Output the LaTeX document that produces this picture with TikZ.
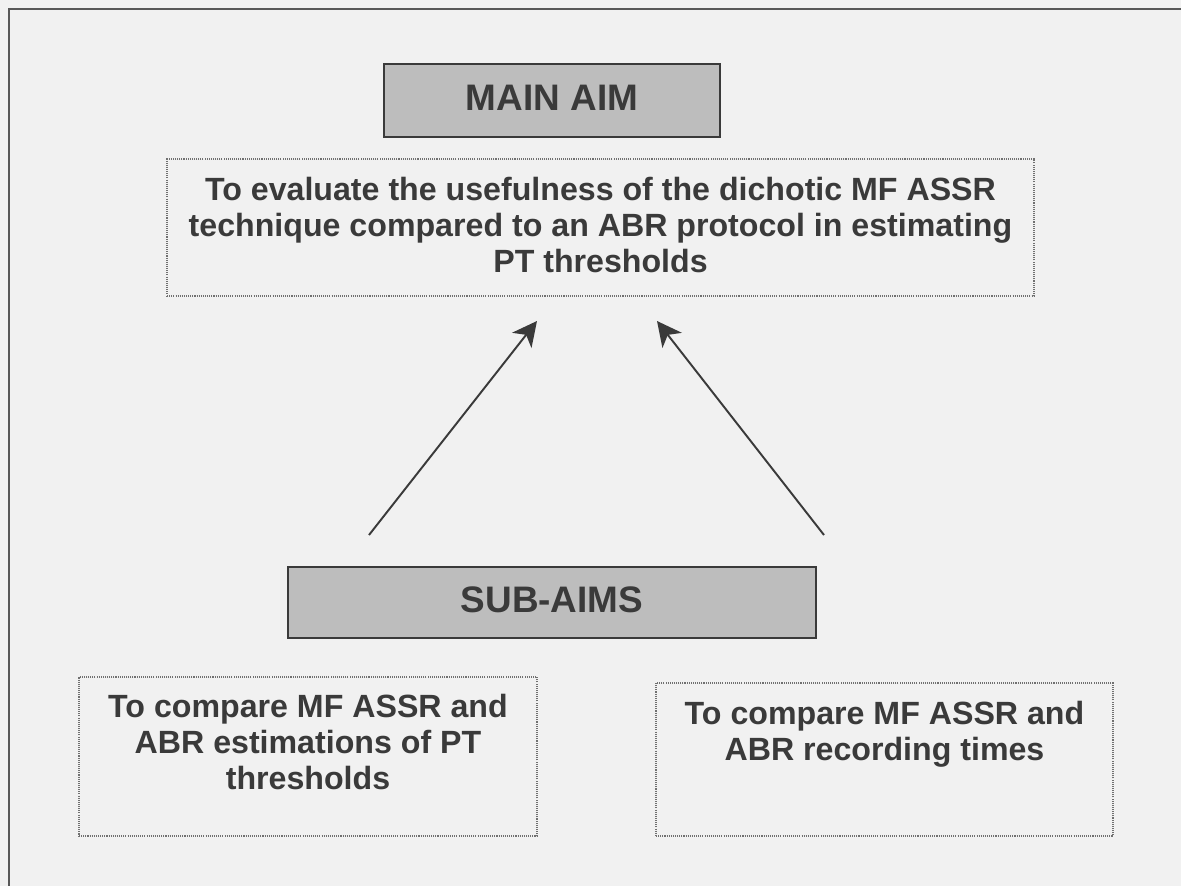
\documentclass[tikz,border=0pt]{standalone}
\usepackage{fontspec}
\setmainfont{Liberation Sans}
\usetikzlibrary{arrows.meta}
\definecolor{bg}{HTML}{F1F1F1}
\definecolor{ink}{HTML}{3A3A3A}
\definecolor{boxfill}{HTML}{BDBDBD}
\definecolor{dotcol}{HTML}{707070}
\begin{document}
\begin{tikzpicture}[x=0.02cm,y=-0.02cm,
  frame/.style={draw=ink!85, line width=1.2pt},
  graybox/.style={draw=ink, fill=boxfill, line width=1.1pt, inner sep=0pt},
  dotbox/.style={draw=dotcol, line width=0.8pt, dash pattern=on 0.6pt off 0.6pt, inner sep=0pt},
  title/.style={font=\bfseries\fontsize{21}{24}\selectfont, text=ink, inner sep=0pt, anchor=base},
  txt/.style={font=\bfseries\fontsize{18.3}{20.4}\selectfont, text=ink, align=center, inner sep=0pt, anchor=base},
  arr/.style={draw=ink, line width=1.1pt, -{Stealth[length=14pt,width=14pt,inset=4pt]}}
]
\useasboundingbox (0,0) rectangle (1181,886);
\clip (0,0) rectangle (1181,886);
\fill[bg] (0,0) rectangle (1181,886);
\draw[frame] (9,900) -- (9,9) -- (1200,9);

\node[graybox, minimum width=6.72cm, minimum height=1.46cm] (mainaim) at (552,100.5) {};
\node[title] (mainaimtxt) at (552,110) {MAIN AIM};

\node[dotbox, minimum width=17.34cm, minimum height=2.74cm] (mainbox) at (600.5,227.5) {};
\node[txt] (maintext) at (600.5,272) {To evaluate the usefulness of the dichotic MF ASSR\\technique compared to an ABR protocol in estimating\\PT thresholds};

\node[graybox, minimum width=10.56cm, minimum height=1.42cm] (subaims) at (552,602.5) {};
\node[title] (subaimstxt) at (552,612) {SUB-AIMS};

\node[dotbox, minimum width=9.16cm, minimum height=3.18cm] (sub1box) at (308,756.5) {};
\node[txt] (sub1) at (308,789) {To compare MF ASSR and\\ABR estimations of PT\\thresholds};

\node[dotbox, minimum width=9.14cm, minimum height=3.06cm] (sub2box) at (884.5,759.5) {};
\node[txt] (sub2) at (884.5,760) {To compare MF ASSR and\\ABR recording times};

\coordinate (a1s) at (369,535);
\coordinate (a1e) at (537,321);
\coordinate (a2s) at (824,535);
\coordinate (a2e) at (657,321);
\draw[arr] (a1s) -- (a1e);
\draw[arr] (a2s) -- (a2e);
\end{tikzpicture}
\end{document}
